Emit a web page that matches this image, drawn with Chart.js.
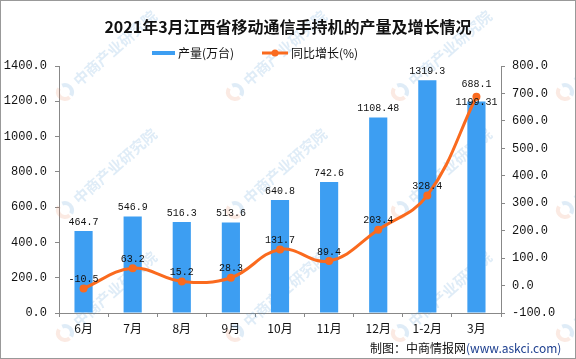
<!doctype html>
<html lang="zh">
<head>
<meta charset="utf-8">
<script src="https://cdn.jsdelivr.net/npm/chart.js@4.4.0/dist/chart.umd.min.js"></script>
<style>
  html, body { margin: 0; padding: 0; background: #fff; }
  #c { display: block; }
</style>
</head>
<body>
<canvas id="c" width="576" height="359"></canvas>
<script>
const months = ['6月', '7月', '8月', '9月', '10月', '11月', '12月', '1-2月', '3月'];
const output = [464.7, 546.9, 516.3, 513.6, 640.8, 742.6, 1108.48, 1319.3, 1199.31];
const growth = [-10.5, 63.2, 15.2, 28.3, 131.7, 89.4, 203.4, 328.4, 688.1];
const leftTicks = { min: 0, max: 1400, step: 200 };
const rightTicks = { min: -100, max: 800, step: 100 };

const BAR = '#3d9ef2';
const LINE = '#fa6a1e';
const CJK = '"Noto Sans CJK SC", "Noto Sans", sans-serif';
const MONO = '"Liberation Mono", "DejaVu Sans Mono", monospace';

// faint site watermark, title, legend, footer and outer frame
const decor = {
  id: 'decor',
  beforeDatasetsDraw(chart) {
    const ctx = chart.ctx;
    ctx.save();
    [65, 235, 400, 565].forEach(function (x) {
      [92, 210, 333].forEach(function (y) {
        ctx.save();
        ctx.translate(x, y);
        ctx.rotate(-0.72);
        ctx.globalAlpha = 0.17;
        ctx.lineWidth = 4;
        ctx.strokeStyle = '#e8835a';
        ctx.beginPath(); ctx.arc(0, 0, 7, Math.PI * 0.5, Math.PI * 1.4); ctx.stroke();
        ctx.strokeStyle = '#3f8fd0';
        ctx.beginPath(); ctx.arc(0, 0, 7, Math.PI * 1.6, Math.PI * 2.4); ctx.stroke();
        ctx.fillStyle = '#3f8fd0';
        ctx.font = 'bold 15px ' + CJK;
        ctx.textBaseline = 'middle';
        ctx.fillText('中商产业研究院', 14, 0);
        ctx.restore();
      });
    });
    ctx.restore();
  },
  afterDraw(chart) {
    const ctx = chart.ctx;
    ctx.save();
    ctx.fillStyle = '#111';
    ctx.textBaseline = 'middle';
    ctx.textAlign = 'center';
    ctx.font = 'bold 16px ' + CJK;
    ctx.fillText('2021年3月江西省移动通信手持机的产量及增长情况', 288, 27);

    // legend
    ctx.textAlign = 'left';
    ctx.font = '12px ' + CJK;
    ctx.fillStyle = BAR;
    ctx.fillRect(152, 51, 23, 4);
    ctx.fillStyle = '#111';
    ctx.fillText(chart.data.datasets[0].label, 178, 53);
    ctx.strokeStyle = LINE;
    ctx.lineWidth = 3;
    ctx.beginPath(); ctx.moveTo(262, 53); ctx.lineTo(288, 53); ctx.stroke();
    ctx.fillStyle = LINE;
    ctx.beginPath(); ctx.arc(275, 53, 3.5, 0, Math.PI * 2); ctx.fill();
    ctx.fillStyle = '#111';
    ctx.fillText(chart.data.datasets[1].label, 291, 53);

    // footer
    ctx.font = '12px ' + CJK;
    ctx.fillStyle = '#111';
    const src = '制图：中商情报网';
    ctx.fillText(src, 370, 348);
    ctx.fillStyle = '#1d3f8f';
    ctx.fillText('(www.askci.com)', 370 + ctx.measureText(src).width, 348);

    ctx.strokeStyle = '#999';
    ctx.lineWidth = 1;
    ctx.strokeRect(0.5, 0.5, 575, 358);
    ctx.restore();
  }
};

// value labels above bars and points; when the two collide the bar label
// sits on the bar top and the line label moves up a little
const valueLabels = {
  id: 'valueLabels',
  afterDatasetsDraw(chart) {
    const ctx = chart.ctx;
    const bars = chart.getDatasetMeta(0).data;
    const pts = chart.getDatasetMeta(1).data;
    ctx.save();
    ctx.fillStyle = '#111';
    ctx.textAlign = 'center';
    ctx.textBaseline = 'middle';
    ctx.font = '10px ' + MONO;
    bars.forEach(function (bar, i) {
      let yb = bar.y - 9;
      let yl = pts[i].y - 9;
      if (Math.abs(yb - yl) < 12) {
        yb = bar.y + 1;
        yl = pts[i].y - 12;
      }
      ctx.fillText(String(output[i]), bar.x, yb);
      ctx.fillText(growth[i].toFixed(1), pts[i].x, yl);
    });
    ctx.restore();
  }
};

new Chart(document.getElementById('c'), {
  data: {
    labels: months,
    datasets: [
      {
        type: 'bar',
        label: '产量(万台)',
        data: output,
        yAxisID: 'y',
        backgroundColor: BAR,
        barPercentage: 0.37,
        categoryPercentage: 1,
        order: 1
      },
      {
        type: 'line',
        label: '同比增长(%)',
        data: growth,
        yAxisID: 'y1',
        borderColor: LINE,
        backgroundColor: LINE,
        borderWidth: 3,
        pointRadius: 4,
        pointBackgroundColor: LINE,
        pointBorderWidth: 0,
        tension: 0.4,
        order: 0
      }
    ]
  },
  options: {
    responsive: false,
    animation: false,
    layout: { padding: { top: 66 } },
    plugins: { legend: { display: false }, title: { display: false }, tooltip: { enabled: false } },
    scales: {
      x: {
        afterFit(s) { s.height = 46; },
        grid: { drawOnChartArea: false, offset: true, tickLength: 4, color: '#888' },
        border: { color: '#888' },
        ticks: { padding: 4, color: '#111', font: { family: CJK, size: 12 }, maxRotation: 0 }
      },
      y: {
        position: 'left',
        min: leftTicks.min,
        max: leftTicks.max,
        afterFit(s) { s.width = 59; },
        grid: { drawOnChartArea: false, tickLength: 4, color: '#888' },
        border: { color: '#888' },
        ticks: {
          stepSize: leftTicks.step,
          padding: 8,
          color: '#111',
          font: { family: MONO, size: 12 },
          callback: function (v) { return Number(v).toFixed(1); }
        }
      },
      y1: {
        position: 'right',
        min: rightTicks.min,
        max: rightTicks.max,
        afterFit(s) { s.width = 75; },
        grid: { drawOnChartArea: false, tickLength: 4, color: '#888' },
        border: { color: '#888' },
        ticks: {
          stepSize: rightTicks.step,
          padding: 7,
          color: '#111',
          font: { family: MONO, size: 12 },
          callback: function (v) { return Number(v).toFixed(1); }
        }
      }
    }
  },
  plugins: [decor, valueLabels]
});
</script>
</body>
</html>
